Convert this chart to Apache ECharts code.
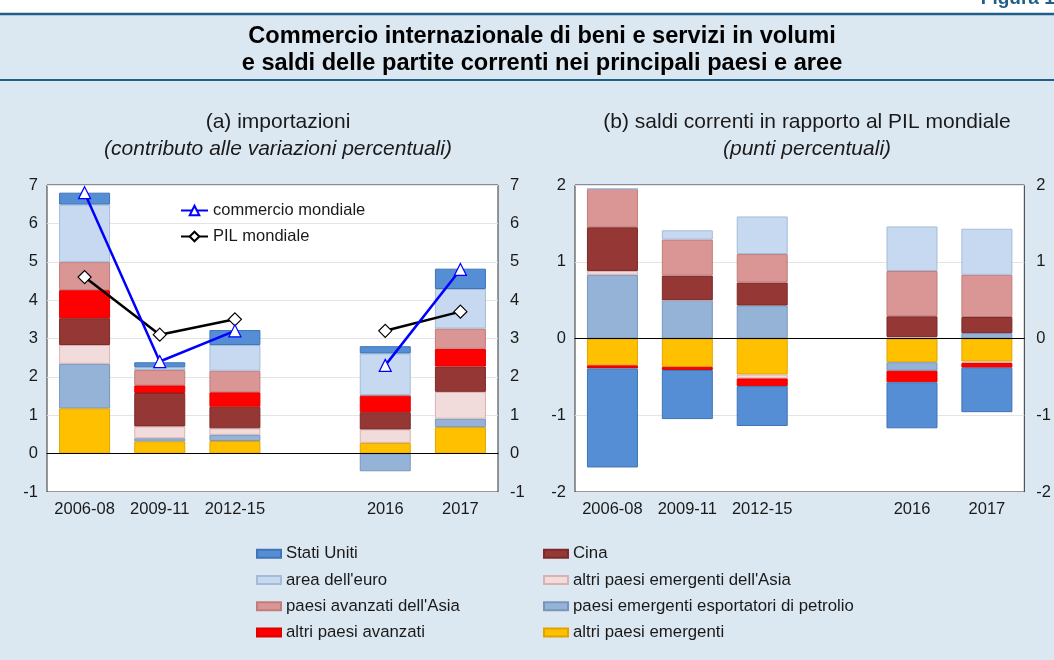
<!DOCTYPE html>
<html>
<head>
<meta charset="utf-8">
<script src="https://cdn.jsdelivr.net/npm/echarts@6/dist/echarts.min.js"></script>
<style>
  html, body { margin: 0; padding: 0; background: #fff; }
  #chart { width: 1054px; height: 660px; }
</style>
</head>
<body>
<div id="chart"></div>
<script>
// categorie (la colonna vuota separa i periodi dagli anni singoli)
var categories = ['2006-08', '2009-11', '2012-15', '', '2016', '2017'];

// (a) importazioni: contributi alle variazioni percentuali
var impAltriEmergenti   = [1.18, 0.32, 0.33, null, 0.28, 0.69];
var impPetrolio         = [1.16, 0.08, 0.16, null, -0.46, 0.22];
var impEmergentiAsia    = [0.49, 0.31, 0.17, null, 0.35, 0.70];
var impCina             = [0.70, 0.87, 0.56, null, 0.45, 0.66];
var impAltriAvanzati    = [0.73, 0.20, 0.38, null, 0.43, 0.46];
var impAvanzatiAsia     = [0.73, 0.40, 0.56, null, 0.02, 0.53];
var impEuro             = [1.50, 0.07, 0.67, null, 1.08, 1.03];
var impStatiUniti       = [0.31, 0.13, 0.39, null, 0.19, 0.53];
var commercioMondiale   = [6.8, 2.4, 3.2, null, 2.3, 4.8];
var pilMondiale         = [4.6, 3.1, 3.5, null, 3.2, 3.7];

// (b) saldi correnti in rapporto al PIL mondiale
var salAltriEmergenti   = [-0.35, -0.37, -0.47, null, -0.31, -0.30];
var salPetrolio         = [0.83, 0.50, 0.43, null, -0.11, 0.07];
var salEmergentiAsia    = [0.05, 0, -0.05, null, 0.02, -0.02];
var salCina             = [0.57, 0.32, 0.30, null, 0.27, 0.21];
var salAltriAvanzati    = [-0.04, -0.04, -0.10, null, -0.15, -0.06];
var salAvanzatiAsia     = [0.50, 0.47, 0.37, null, 0.59, 0.55];
var salEuro             = [0, 0.12, 0.49, null, 0.58, 0.60];
var salStatiUniti       = [-1.29, -0.64, -0.52, null, -0.60, -0.58];

// assi
var ticksA = [-1, 0, 1, 2, 3, 4, 5, 6, 7];
var ticksB = [-2, -1, 0, 1, 2];

var FONT = 'Liberation Sans';
var TXT = '#1a1a1a';

// ordine di impilamento dal basso
var aree = [
  { name: 'altri paesi emergenti', color: '#FFC000', border: '#E0A400', a: impAltriEmergenti, b: salAltriEmergenti },
  { name: 'paesi emergenti esportatori di petrolio', color: '#95B3D7', border: '#7896BD', a: impPetrolio, b: salPetrolio },
  { name: "altri paesi emergenti dell'Asia", color: '#F2DCDB', border: '#D9B3B2', a: impEmergentiAsia, b: salEmergentiAsia },
  { name: 'Cina', color: '#953735', border: '#7A2B2A', a: impCina, b: salCina },
  { name: 'altri paesi avanzati', color: '#FF0000', border: '#E00000', a: impAltriAvanzati, b: salAltriAvanzati },
  { name: "paesi avanzati dell'Asia", color: '#D99694', border: '#C27C7A', a: impAvanzatiAsia, b: salAvanzatiAsia },
  { name: "area dell'euro", color: '#C6D9F1', border: '#A5BCD8', a: impEuro, b: salEuro },
  { name: 'Stati Uniti', color: '#558ED5', border: '#3F74B5', a: impStatiUniti, b: salStatiUniti }
];

var series = [];
aree.forEach(function (s) {
  series.push({
    name: s.name, type: 'bar', stack: 'a', xAxisIndex: 0, yAxisIndex: 0,
    barWidth: 51, data: s.a,
    itemStyle: { color: s.color, borderColor: s.border, borderWidth: 1 }
  });
  series.push({
    name: s.name, type: 'bar', stack: 'b', xAxisIndex: 2, yAxisIndex: 2,
    barWidth: 51, data: s.b,
    itemStyle: { color: s.color, borderColor: s.border, borderWidth: 1 }
  });
});
series.push({
  name: 'PIL mondiale', type: 'line', xAxisIndex: 0, yAxisIndex: 0, z: 5,
  data: pilMondiale, connectNulls: false,
  symbol: 'diamond', symbolSize: 13,
  lineStyle: { color: '#000', width: 2.5 },
  itemStyle: { color: '#fff', borderColor: '#000', borderWidth: 1.2 }
});
series.push({
  name: 'commercio mondiale', type: 'line', xAxisIndex: 0, yAxisIndex: 0, z: 6,
  data: commercioMondiale, connectNulls: false,
  symbol: 'triangle', symbolSize: 12,
  lineStyle: { color: '#0000FF', width: 2.5 },
  itemStyle: { color: '#fff', borderColor: '#0000FF', borderWidth: 1.2 }
});

function yAxes(gridIndex, ticks) {
  var lo = ticks[0], hi = ticks[ticks.length - 1];
  var lab = { fontFamily: FONT, fontSize: 16.5, color: TXT };
  return [
    { gridIndex: gridIndex, type: 'value', min: lo, max: hi, interval: 1, position: 'left',
      axisLine: { show: false }, axisTick: { show: false },
      axisLabel: Object.assign({ margin: 9 }, lab),
      splitLine: { lineStyle: { color: '#E4E4E4', width: 1 } } },
    { gridIndex: gridIndex, type: 'value', min: lo, max: hi, interval: 1, position: 'right',
      axisLine: { show: false }, axisTick: { show: false },
      axisLabel: Object.assign({ margin: 12 }, lab),
      splitLine: { show: false } }
  ];
}

function xAxes(gridIndex) {
  return [
    { gridIndex: gridIndex, type: 'category', data: categories, position: 'bottom',
      axisLine: { onZero: true, lineStyle: { color: '#000', width: 1.2 } },
      axisTick: { inside: true, length: 6, lineStyle: { color: '#BDBDBD' } },
      axisLabel: { show: false }, z: 4 },
    { gridIndex: gridIndex, type: 'category', data: categories, position: 'bottom',
      axisLine: { show: false, onZero: false }, axisTick: { show: false },
      axisLabel: { interval: 0, fontFamily: FONT, fontSize: 16.5, color: TXT, margin: 9 } }
  ];
}

var chart = echarts.init(document.getElementById('chart'));
chart.setOption({
  backgroundColor: '#DCE8F1',
  animation: false,
  textStyle: { fontFamily: FONT },
  graphic: [
    { type: 'rect', shape: { x: 0, y: 0, width: 1054, height: 13 }, style: { fill: '#fff' } },
    { type: 'line', shape: { x1: 0, y1: 14, x2: 1054, y2: 14 }, style: { stroke: '#1F5E86', lineWidth: 2.5 } },
    { type: 'line', shape: { x1: 0, y1: 80, x2: 1054, y2: 80 }, style: { stroke: '#1F5E86', lineWidth: 2 } },
    { type: 'text', x: 1060, y: -11, style: { text: 'Figura 1.', fontFamily: FONT, fontSize: 19, fontWeight: 'bold', fill: '#1F5E86', textAlign: 'right' } }
  ],
  title: [
    { text: 'Commercio internazionale di beni e servizi in volumi\ne saldi delle partite correnti nei principali paesi e aree',
      left: 537, top: 18, textAlign: 'center',
      textStyle: { fontFamily: FONT, fontSize: 23.6, fontWeight: 'bold', color: '#000', lineHeight: 27 } },
    { text: '(a) importazioni', left: 273, top: 107, textAlign: 'center',
      textStyle: { fontFamily: FONT, fontSize: 21, fontWeight: 'normal', color: TXT } },
    { text: '(contributo alle variazioni percentuali)', left: 273, top: 134, textAlign: 'center',
      textStyle: { fontFamily: FONT, fontSize: 21, fontWeight: 'normal', fontStyle: 'italic', color: TXT } },
    { text: '(b) saldi correnti in rapporto al PIL mondiale', left: 802, top: 107, textAlign: 'center',
      textStyle: { fontFamily: FONT, fontSize: 21, fontWeight: 'normal', color: TXT } },
    { text: '(punti percentuali)', left: 802, top: 134, textAlign: 'center',
      textStyle: { fontFamily: FONT, fontSize: 21, fontWeight: 'normal', fontStyle: 'italic', color: TXT } }
  ],
  legend: [
    { data: ['commercio mondiale', 'PIL mondiale'], orient: 'vertical', left: 180, top: 202,
      itemWidth: 27, itemHeight: 12, itemGap: 9, padding: 0,
      textStyle: { fontFamily: FONT, fontSize: 16.5, color: TXT, lineHeight: 17 } },
    { data: ['Stati Uniti', "area dell'euro", "paesi avanzati dell'Asia", 'altri paesi avanzati'],
      orient: 'vertical', left: 256, top: 545, icon: 'rect',
      itemWidth: 24, itemHeight: 8, itemGap: 9, padding: 0,
      textStyle: { fontFamily: FONT, fontSize: 16.8, color: TXT, lineHeight: 17.3 } },
    { data: ['Cina', "altri paesi emergenti dell'Asia", 'paesi emergenti esportatori di petrolio', 'altri paesi emergenti'],
      orient: 'vertical', left: 543, top: 545, icon: 'rect',
      itemWidth: 24, itemHeight: 8, itemGap: 9, padding: 0,
      textStyle: { fontFamily: FONT, fontSize: 16.8, color: TXT, lineHeight: 17.3 } }
  ],
  grid: [
    { left: 47, right: 556, top: 185, bottom: 168, show: true, backgroundColor: '#fff', borderColor: '#333', borderWidth: 1 },
    { left: 575, right: 28, top: 185, bottom: 168, show: true, backgroundColor: '#fff', borderColor: '#333', borderWidth: 1 }
  ],
  xAxis: xAxes(0).concat(xAxes(1)),
  yAxis: yAxes(0, ticksA).concat(yAxes(1, ticksB)),
  series: series
});
</script>
</body>
</html>
